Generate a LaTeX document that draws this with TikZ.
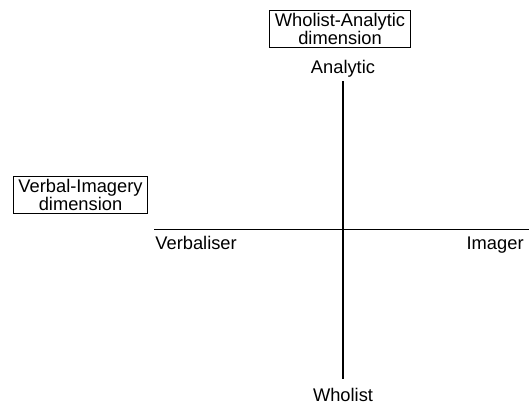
\documentclass[tikz,border=0pt]{standalone}
\usepackage{fontspec}
\setmainfont{Liberation Sans}
\usetikzlibrary{positioning}
\tikzset{
  dimbox/.style={draw,line width=0.6pt,align=center,inner xsep=2.6pt,inner ysep=1.2pt,font=\fontsize{9.15}{9}\selectfont},
  polelbl/.style={font=\fontsize{9.15}{9}\selectfont,inner sep=0pt},
  axisline/.style={line width=0.7pt},
}
\begin{document}
\begin{tikzpicture}[x=0.5pt,y=-0.5pt]
\useasboundingbox (0,0) rectangle (531,404);

% ends of the two axes
\coordinate (top) at (343,81);
\coordinate (bot) at (343,379);
\coordinate (lft) at (154,229.5);
\coordinate (rgt) at (529,229.5);
\draw[axisline] (top) -- (bot);
\draw[axisline] (lft) -- (rgt);

% poles
\node[polelbl,anchor=base] (analytic) at (343,73) {Analytic};
\node[polelbl,anchor=base] (wholist) at (343,401) {Wholist};
\node[polelbl,anchor=base west] (verbaliser) at (155,249) {Verbaliser};
\node[polelbl,anchor=base east] (imager) at (524,249) {Imager};

% dimension boxes
\node[dimbox] (whanbox) at (340,29) {Wholist-Analytic\\dimension};
\node[dimbox] (vibox) at (80.5,195) {Verbal-Imagery\\dimension};
\end{tikzpicture}
\end{document}
